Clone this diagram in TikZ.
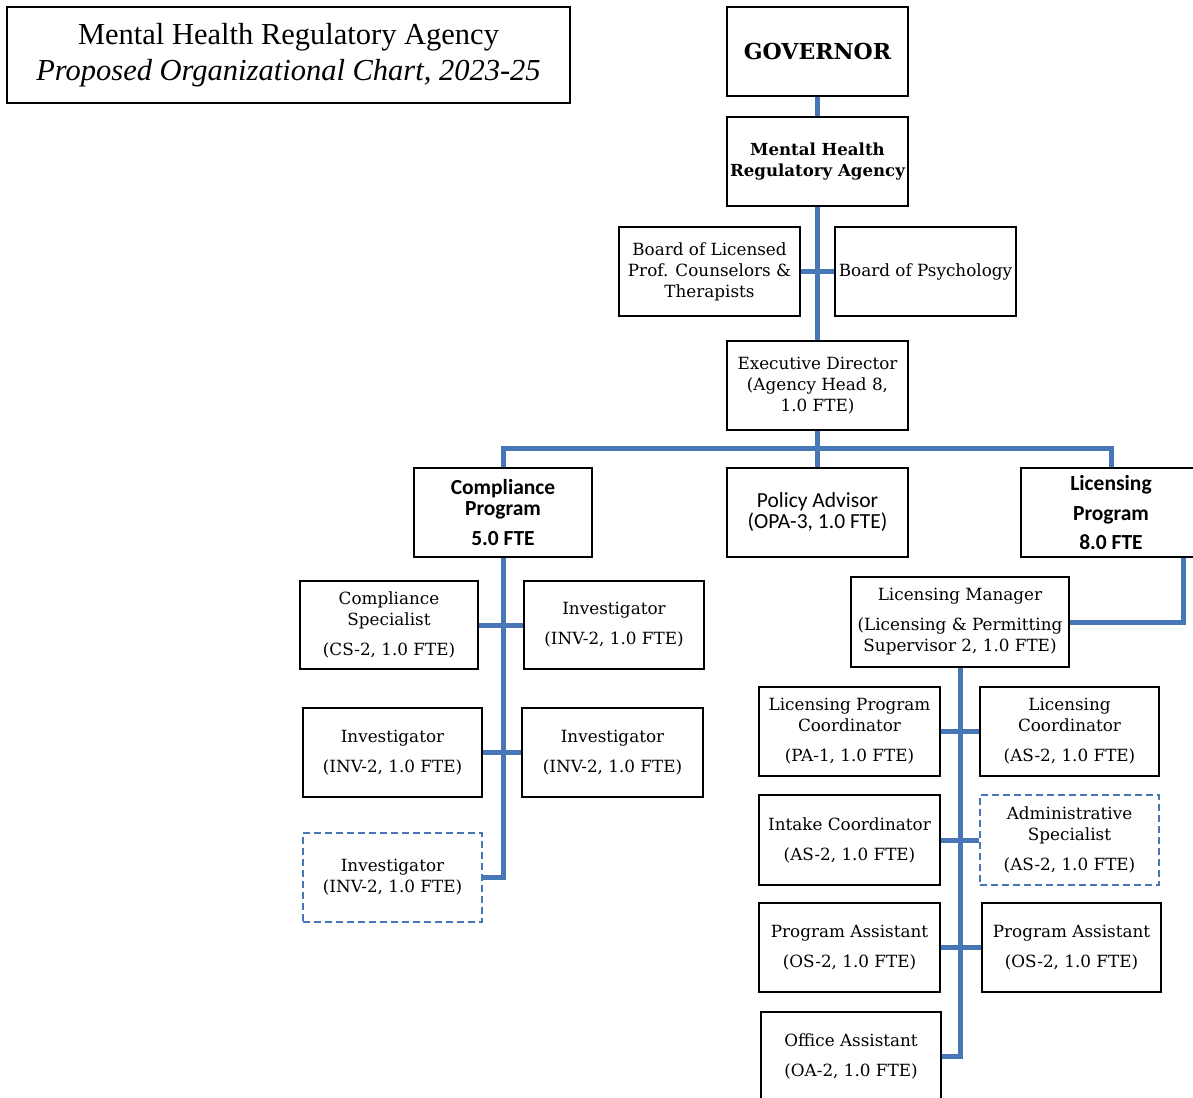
\documentclass[tikz,border=0pt]{standalone}
\usepackage{fontspec}
\setmainfont{DejaVu Serif}
\newfontfamily\cam{DejaVu Serif}
\newfontfamily\calib{Carlito}
\newfontfamily\tms{Liberation Serif}
\definecolor{lineblue}{RGB}{71,119,183}
\tikzset{
  box/.style={draw=black, line width=1.2pt, inner sep=0pt, align=center, fill=white,
    font=\cam\fontsize{16.8}{21}\selectfont},
  dbox/.style={box, draw=lineblue, dash pattern=on 7pt off 4pt},
  cbox/.style={box, font=\calib\fontsize{21.5}{21}\selectfont},
  conn/.style={draw=lineblue, line width=5pt}
}
\begin{document}
\begin{tikzpicture}[x=1pt,y=-1pt]
\clip (0,0) rectangle (1193,1097);
\useasboundingbox (0,0) rectangle (1193,1097);
\node[box, minimum width=563, minimum height=96, font=\tms\fontsize{30.5}{36}\selectfont] (title) at (288.5,55)
  {Mental Health Regulatory Agency\\\textit{Proposed Organizational Chart, 2023-25}};
\node[box, minimum width=181, minimum height=89, font=\cam\bfseries\fontsize{22}{24}\selectfont] (gov) at (817.5,51.5) {GOVERNOR};
\node[box, minimum width=181, minimum height=89, font=\cam\bfseries\fontsize{16.6}{21}\selectfont] (mhra) at (817.5,161.5) {Mental Health\\Regulatory Agency};
\node[box, minimum width=181, minimum height=89] (blpc) at (709.5,271.5) {Board of Licensed\\Prof. Counselors \&\\Therapists};
\node[box, minimum width=181, minimum height=89] (bpsy) at (925.5,271.5) {Board of Psychology};
\node[box, minimum width=181, minimum height=89] (ed) at (817.5,385.5) {Executive Director\\(Agency Head 8,\\1.0 FTE)};
\node[cbox, minimum width=178, minimum height=89, font=\calib\bfseries\fontsize{21.5}{21}\selectfont] (cp) at (503,512.5) {Compliance\\Program\\[9pt]5.0 FTE};
\node[cbox, minimum width=181, minimum height=89] (pa) at (817.5,512.5) {Policy Advisor\\(OPA-3, 1.0 FTE)};
\node[cbox, minimum width=180, minimum height=89, font=\calib\bfseries\fontsize{21.5}{21}\selectfont] (lp) at (1111,512.5) {Licensing\\[9pt]Program\\[8pt]8.0 FTE};
\node[box, minimum width=218, minimum height=90] (lm) at (960,622) {Licensing Manager\\[9pt](Licensing \& Permitting\\Supervisor 2, 1.0 FTE)};
\node[box, minimum width=178, minimum height=88] (cs) at (389,625) {Compliance\\Specialist\\[9pt](CS-2, 1.0 FTE)};
\node[box, minimum width=180, minimum height=88] (inv1) at (614,625) {Investigator\\[9pt](INV-2, 1.0 FTE)};
\node[box, minimum width=179, minimum height=89] (inv2) at (392.5,752.5) {Investigator\\[9pt](INV-2, 1.0 FTE)};
\node[box, minimum width=181, minimum height=89] (inv2r) at (612.5,752.5) {Investigator\\[9pt](INV-2, 1.0 FTE)};
\node[dbox, minimum width=179, minimum height=89] (inv3) at (392.5,877.5) {Investigator\\(INV-2, 1.0 FTE)};
\node[box, minimum width=181, minimum height=89] (lpc) at (849.5,731.5) {Licensing Program\\Coordinator\\[9pt](PA-1, 1.0 FTE)};
\node[box, minimum width=179, minimum height=89] (lc) at (1069.5,731.5) {Licensing\\Coordinator\\[9pt](AS-2, 1.0 FTE)};
\node[box, minimum width=181, minimum height=90] (ic) at (849.5,840) {Intake Coordinator\\[9pt](AS-2, 1.0 FTE)};
\node[dbox, minimum width=179, minimum height=90] (as) at (1069.5,840) {Administrative\\Specialist\\[9pt](AS-2, 1.0 FTE)};
\node[box, minimum width=181, minimum height=89] (pa1) at (849.5,947.5) {Program Assistant\\[9pt](OS-2, 1.0 FTE)};
\node[box, minimum width=179, minimum height=89] (pa2) at (1071.5,947.5) {Program Assistant\\[9pt](OS-2, 1.0 FTE)};
\node[box, minimum width=180, minimum height=89] (oa) at (851,1056.5) {Office Assistant\\[9pt](OA-2, 1.0 FTE)};
% connectors
\draw[conn] (gov.south) -- (mhra.north);
\draw[conn] (mhra.south) -- (ed.north);
\draw[conn] (blpc.east) -- (bpsy.west);
\draw[conn] (cp.north) -- ++(0,-19) -| (lp.north);
\draw[conn] (ed.south) -- (pa.north);
\draw[conn] ([xshift=-18pt]lp.south east) |- (lm.east);
\draw[conn] (cp.south) |- (inv3.east);
\draw[conn] (cs.east) -- (inv1.west);
\draw[conn] (inv2.east) -- (inv2r.west);
\draw[conn] (lm.south) |- (oa.east);
\draw[conn] (lpc.east) -- (lc.west);
\draw[conn] (ic.east) -- (as.west);
\draw[conn] (pa1.east) -- (pa2.west);
\end{tikzpicture}
\end{document}
